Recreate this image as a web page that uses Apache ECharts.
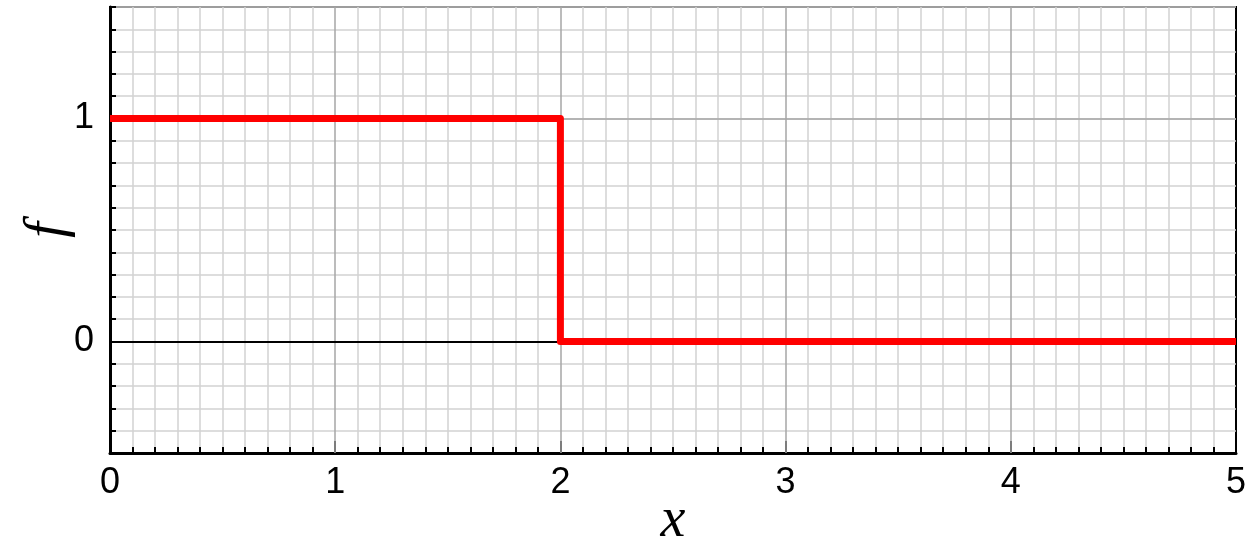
<!DOCTYPE html>
<html>
<head>
<meta charset="utf-8">
<script src="https://cdn.jsdelivr.net/npm/echarts@6/dist/echarts.min.js"></script>
<style>
  html, body { margin: 0; padding: 0; background: #fff; }
  #chart { width: 1249px; height: 544px; }
</style>
</head>
<body>
<div id="chart"></div>
<script>
// Step function f(x): 1 for x < 2, 0 for x >= 2
const stepX = [0, 2, 2, 5];
const stepF = [1, 1, 0, 0];

// Axis ranges and labelled ticks
const xRange = [0, 5];
const yRange = [-0.5, 1.5];
const xTickLabels = [0, 1, 2, 3, 4, 5];
const yTickLabels = [0, 1];

// Darker reference lines
const xMajorLines = [1, 2, 3, 4];
const yMajorLines = [1];
const zeroLine = 0;

const chart = echarts.init(document.getElementById('chart'));

const labelFont = { fontFamily: 'Liberation Sans', fontSize: 36, color: '#000' };
const nameFont = { fontFamily: 'Liberation Serif', fontStyle: 'italic', fontSize: 56, color: '#000' };

function near(v, list) {
  return list.some(t => Math.abs(v - t) < 1e-6);
}

const refLines = [];
xMajorLines.forEach(v => refLines.push({ xAxis: v, lineStyle: { color: '#a6a6a6', width: 1.5, type: 'solid' } }));
yMajorLines.forEach(v => refLines.push({ yAxis: v, lineStyle: { color: '#a6a6a6', width: 1.5, type: 'solid' } }));
refLines.push({ yAxis: zeroLine, lineStyle: { color: '#000', width: 2, type: 'solid' } });

chart.setOption({
  animation: false,
  backgroundColor: '#fff',
  grid: {
    left: 110, right: 13, top: 7, bottom: 91,
    containLabel: false,
    outerBoundsMode: 'none',
    show: true, borderColor: '#000', borderWidth: 2, backgroundColor: 'transparent'
  },
  xAxis: {
    type: 'value',
    min: xRange[0], max: xRange[1], interval: 1,
    name: 'x', nameLocation: 'middle', nameGap: 40, nameMoveOverlap: false, nameTextStyle: nameFont,
    axisLine: { show: true, onZero: false, lineStyle: { color: '#000', width: 3 } },
    axisTick: { show: true, inside: true, length: 12, lineStyle: { color: '#000', width: 2 } },
    minorTick: { show: true, splitNumber: 10, length: 6, lineStyle: { color: '#000', width: 2 } },
    splitLine: { show: false },
    minorSplitLine: { show: true, lineStyle: { color: '#d2d2d2', width: 1.5 } },
    axisLabel: Object.assign({
      margin: 12,
      formatter: v => near(v, xTickLabels) ? String(Math.round(v)) : ''
    }, labelFont)
  },
  yAxis: {
    type: 'value',
    min: yRange[0], max: yRange[1], interval: 0.1,
    name: 'f', nameLocation: 'middle', nameGap: 34, nameMoveOverlap: false, nameTextStyle: nameFont,
    axisLine: { show: true, onZero: false, lineStyle: { color: '#000', width: 3 } },
    axisTick: { show: true, inside: true, length: 6, lineStyle: { color: '#000', width: 2 } },
    splitLine: { show: true, lineStyle: { color: '#d2d2d2', width: 1.5 } },
    axisLabel: Object.assign({
      margin: 16,
      formatter: v => near(v, yTickLabels) ? String(Math.round(v)) : ''
    }, labelFont)
  },
  series: [
    {
      type: 'line',
      data: [],
      silent: true,
      z: 1,
      markLine: {
        silent: true,
        symbol: 'none',
        label: { show: false },
        data: refLines
      }
    },
    {
      type: 'line',
      z: 5,
      data: stepX.map((x, i) => [x, stepF[i]]),
      showSymbol: false,
      lineStyle: { color: '#ff0000', width: 7, join: 'round', cap: 'butt' },
      clip: true
    }
  ]
});
</script>
</body>
</html>
